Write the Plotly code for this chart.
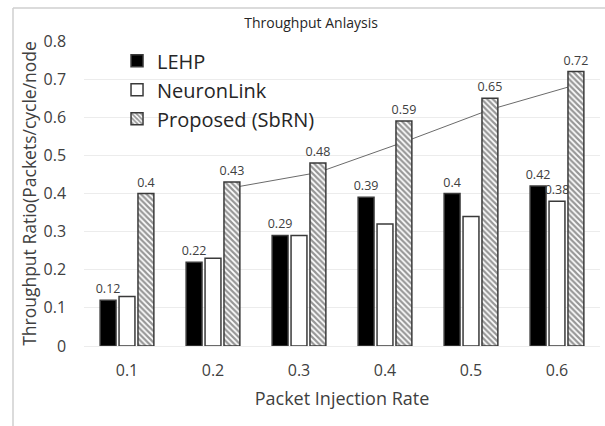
import plotly.graph_objects as go

# Packet injection rates (x categories)
rates = ["0.1", "0.2", "0.3", "0.4", "0.5", "0.6"]

# Throughput (packets/cycle/node) per scheme
lehp = [0.12, 0.22, 0.29, 0.39, 0.40, 0.42]
neuronlink = [0.13, 0.23, 0.29, 0.32, 0.34, 0.38]
proposed = [0.40, 0.43, 0.48, 0.59, 0.65, 0.72]

# Which NeuronLink bars carry a value label
neuronlink_labelled = [False, False, False, False, False, True]

FONT = "Open Sans"
TEXT = "#404040"
EDGE = "#3a3a3a"

BARGAP = 0.34
BARGROUPGAP = 0.16
idx = list(range(len(rates)))
slot = (1 - BARGAP) / 3  # width of one bar slot inside a group

fig = go.Figure()

label_font = dict(family=FONT, size=12.5, color=TEXT)

fig.add_trace(go.Bar(
    name="LEHP", x=idx, y=lehp,
    marker=dict(color="black", line=dict(color=EDGE, width=1.5)),
    text=[f"{v:g}" for v in lehp], textposition="outside", constraintext="none",
    textfont=label_font, cliponaxis=False,
))
fig.add_trace(go.Bar(
    name="NeuronLink", x=idx, y=neuronlink,
    marker=dict(color="white", line=dict(color=EDGE, width=1.5)),
    text=[f"{v:g}" if show else "" for v, show in zip(neuronlink, neuronlink_labelled)],
    textposition="outside", constraintext="none",
    textfont=label_font, cliponaxis=False,
))
fig.add_trace(go.Bar(
    name="Proposed (SbRN)", x=idx, y=proposed,
    marker=dict(color="white", line=dict(color=EDGE, width=1.5),
                pattern=dict(shape="\\", fgcolor="#2e2e2e", bgcolor="white",
                             size=4, solidity=0.55)),
    text=[f"{v:g}" for v in proposed], textposition="outside", constraintext="none",
    textfont=label_font, cliponaxis=False,
))

# Two-period moving-average trendline over the Proposed series,
# drawn underneath the bars (lower zorder)
ma_x = [i + slot for i in idx[1:]]
ma_y = [(proposed[i - 1] + proposed[i]) / 2 for i in idx[1:]]
fig.add_trace(go.Scatter(
    x=ma_x, y=ma_y, mode="lines", showlegend=False,
    line=dict(color="#6b6b6b", width=1), hoverinfo="skip", zorder=-1,
))

# Outer chart frame (top and left edges)
frame = dict(type="line", xref="paper", yref="paper",
             line=dict(color="#cfcfcf", width=1.5), layer="below")
fig.add_shape(x0=-0.1376, x1=1.0097, y0=1.108, y1=1.108, **frame)
fig.add_shape(x0=-0.1376, x1=-0.1376, y0=1.108, y1=-0.262, **frame)

fig.update_layout(
    width=605, height=426,
    margin=dict(l=84, r=5, t=41, b=80),
    paper_bgcolor="white", plot_bgcolor="white",
    barmode="group", bargap=BARGAP, bargroupgap=BARGROUPGAP,
    font=dict(family=FONT, color=TEXT),
    title=dict(text="Throughput Anlaysis", font=dict(family=FONT, size=14, color="#262626"),
               x=0.44, xref="paper", xanchor="center", y=0.945, yanchor="middle"),
    legend=dict(x=0.064, y=0.999, xanchor="left", yanchor="top",
                font=dict(family=FONT, size=20, color="#262626"),
                bgcolor="rgba(0,0,0,0)", traceorder="normal"),
    showlegend=True,
)

fig.update_xaxes(
    range=[-0.5, len(rates) - 0.5], tickvals=idx, ticktext=rates,
    showgrid=False, zeroline=False, showline=False,
    ticks="outside", ticklen=10, tickcolor="rgba(0,0,0,0)",
    tickfont=dict(family=FONT, size=16, color=TEXT),
    title=dict(text="Packet Injection Rate", font=dict(family=FONT, size=18, color=TEXT),
               standoff=12),
)
fig.update_yaxes(
    range=[0, 0.8], dtick=0.1,
    showgrid=True, gridcolor="#ececec", gridwidth=1,
    zeroline=True, zerolinecolor="#ececec", zerolinewidth=1,
    showline=True, linecolor="#d0d0d0", linewidth=1.5,
    ticks="outside", ticklen=13, tickcolor="rgba(0,0,0,0)",
    tickfont=dict(family=FONT, size=16, color=TEXT),
    title=dict(text="Throughput Ratio(Packets/cycle/node", font=dict(family=FONT, size=17.5, color=TEXT),
               standoff=2),
)

fig.write_html("out.html")
